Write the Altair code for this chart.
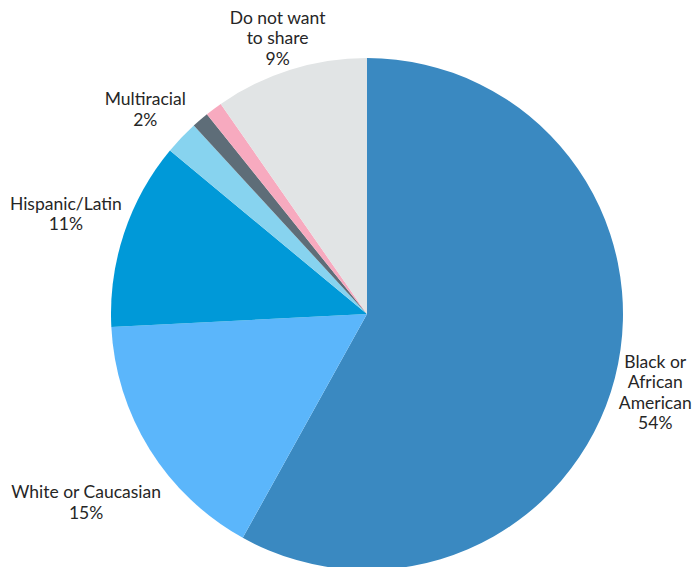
import altair as alt
import pandas as pd

categories = ["Black or African American", "White or Caucasian", "Hispanic/Latin",
              "Multiracial", "Other A", "Other B", "Do not want to share"]
values = [54, 15, 11, 2, 1, 1, 9]
labels = ["Black or\nAfrican\nAmerican\n54%", "White or Caucasian\n15%", "Hispanic/Latin\n11%",
          "Multiracial\n2%", "", "", "Do not want\nto share\n9%"]
colors = ["#3A89C1", "#5BB6FB", "#0099D8", "#87D3EF", "#5E6D78", "#F7AABF", "#E1E4E5"]

# layout: label distance from pie centre and small angular nudge (degrees)
label_radius = [299, 339, 317, 301, 0, 0, 289]
label_nudge = [0.9, -2.1, -0.2, -1.0, 0.0, 0.0, -0.6]

df = pd.DataFrame({
    "cat": categories,
    "value": values,
    "label": labels,
    "idx": list(range(len(categories))),
    "lr": label_radius,
    "dth": label_nudge,
    "nlines": [l.count("\n") + 1 for l in labels],
})

total = sum(values)
cx, cy, R = 359, 306, 256
LH = 20.5
theta_scale = alt.Scale(domain=[0, total], range=[0, 6.283185307179586])

base = alt.Chart(df).transform_window(
    v1="sum(value)", sort=[alt.SortField("idx")]
).transform_calculate(
    v0="datum.v1 - datum.value",
    mid="datum.v1 - datum.value / 2",
)

pie = base.mark_arc(outerRadius=R, stroke=None).encode(
    theta=alt.Theta("v0:Q", scale=theta_scale),
    theta2="v1:Q",
    x=alt.value(cx),
    y=alt.value(cy),
    color=alt.Color("cat:N", scale=alt.Scale(domain=categories, range=colors), legend=None),
)

text = base.transform_calculate(
    ang=f"2 * PI * datum.mid / {total} + datum.dth * PI / 180",
).transform_calculate(
    lx=f"{cx} + datum.lr * sin(datum.ang)",
    ly=f"{cy} - datum.lr * cos(datum.ang) - (datum.nlines - 1) * {LH} / 2",
).mark_text(font="Lato", fontSize=17.5, lineHeight=LH, color="#262626",
            align="center", baseline="middle", lineBreak="\n").encode(
    x=alt.X("lx:Q", scale=None),
    y=alt.Y("ly:Q", scale=None),
    text="label:N",
)

chart = alt.layer(pie, text).properties(
    width=684, height=559,
    autosize=alt.AutoSizeParams(type="none"),
    padding=0,
).configure_view(stroke=None)

chart.save("out.html", embed_options={"renderer": "svg", "actions": False})
